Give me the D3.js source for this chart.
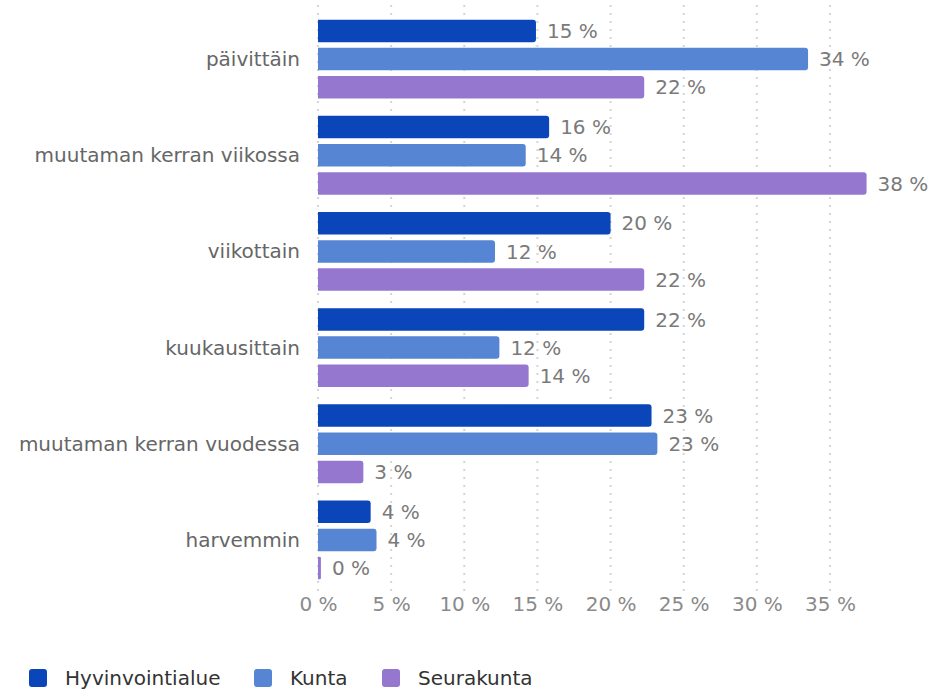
<!DOCTYPE html>
<html>
<head>
<meta charset="utf-8">
<script src="https://cdn.jsdelivr.net/npm/d3@7"></script>
<style>
  body { margin: 0; background: #fff; }
  svg { display: block; }
</style>
</head>
<body>
<svg id="chart" width="935" height="692"></svg>
<script>
const categories = ['päivittäin', 'muutaman kerran viikossa', 'viikottain', 'kuukausittain', 'muutaman kerran vuodessa', 'harvemmin']
const seriesNames = ['Hyvinvointialue', 'Kunta', 'Seurakunta']
const hyvinvointialue = [14.9, 15.8, 20.0, 22.3, 22.8, 3.6]
const kunta = [33.5, 14.2, 12.1, 12.4, 23.2, 4.0]
const seurakunta = [22.3, 37.5, 22.3, 14.4, 3.1, 0.2]
const xTicks = [0, 5, 10, 15, 20, 25, 30, 35]
const colors = ['#0a46b9', '#5585d3', '#9577cf']

const seriesValues = [hyvinvointialue, kunta, seurakunta]

const svg = d3.select('#chart')
const plotLeft = 318
const plotRight = 830
const plotTop = 11
const plotBottom = 588

const xSc = d3.scaleLinear().domain([0, 35]).range([plotLeft, plotRight])
const ySc = d3.scaleBand().domain(categories).range([plotTop, plotBottom]).paddingInner(0.18).paddingOuter(0.09)
const ySub = d3.scaleBand().domain(seriesNames).range([0, ySc.bandwidth()]).paddingInner(0.2)

// dotted grid
svg.append('g')
  .selectAll('line')
  .data(xTicks)
  .enter()
  .append('line')
  .attr('x1', d => xSc(d))
  .attr('x2', d => xSc(d))
  .attr('y1', 5)
  .attr('y2', 592)
  .attr('stroke', '#d4d4d4')
  .attr('stroke-width', 2)
  .attr('stroke-dasharray', '2,6')

// x axis labels
const xAxis = d3.axisBottom(xSc).tickValues(xTicks).tickSize(0).tickPadding(0).tickFormat(d => `${d} %`)
const ax = svg.append('g').attr('transform', `translate(0,${plotBottom + 9})`).call(xAxis)
ax.select('.domain').remove()
ax.selectAll('text')
  .attr('fill', '#8a8a8a')
  .style('font-family', 'DejaVu Sans, sans-serif')
  .style('font-size', '20px')

// category labels
svg.append('g')
  .selectAll('text')
  .data(categories)
  .enter()
  .append('text')
  .attr('x', 300)
  .attr('y', d => ySc(d) + ySc.bandwidth() / 2)
  .attr('dy', '0.35em')
  .attr('text-anchor', 'end')
  .attr('fill', '#666')
  .style('font-family', 'DejaVu Sans, sans-serif')
  .style('font-size', '20px')
  .text(d => d)

// bars
const rows = []
categories.forEach((c, i) => {
  seriesNames.forEach((s, j) => {
    rows.push({ cat: c, series: s, value: seriesValues[j][i], color: colors[j] })
  })
})

function barPath(d) {
  const x0 = xSc(0)
  const x1 = xSc(d.value)
  const y0 = ySc(d.cat) + ySub(d.series)
  const h = ySub.bandwidth()
  const r = Math.min(3, (x1 - x0) / 2)
  return `M ${x0} ${y0} H ${x1 - r} Q ${x1} ${y0} ${x1} ${y0 + r} V ${y0 + h - r} Q ${x1} ${y0 + h} ${x1 - r} ${y0 + h} H ${x0} Z`
}

svg.append('g')
  .selectAll('path')
  .data(rows)
  .enter()
  .append('path')
  .attr('d', barPath)
  .attr('fill', d => d.color)

svg.append('g')
  .selectAll('text')
  .data(rows)
  .enter()
  .append('text')
  .attr('x', d => xSc(d.value) + 11)
  .attr('y', d => ySc(d.cat) + ySub(d.series) + ySub.bandwidth() / 2)
  .attr('dy', '0.36em')
  .attr('fill', '#7a7a7a')
  .style('font-family', 'DejaVu Sans, sans-serif')
  .style('font-size', '20px')
  .text(d => `${Math.round(d.value)} %`)

// legend
const legendX = [29, 254, 382]
const leg = svg.append('g')
  .selectAll('g')
  .data(seriesNames)
  .enter()
  .append('g')
  .attr('transform', (d, i) => `translate(${legendX[i]},669)`)
leg.append('rect')
  .attr('width', 18)
  .attr('height', 18)
  .attr('rx', 3)
  .attr('fill', (d, i) => colors[i])
leg.append('text')
  .attr('x', 36)
  .attr('y', 9)
  .attr('dy', '0.36em')
  .attr('fill', '#333')
  .style('font-family', 'DejaVu Sans, sans-serif')
  .style('font-size', '20px')
  .text(d => d)
</script>
</body>
</html>
